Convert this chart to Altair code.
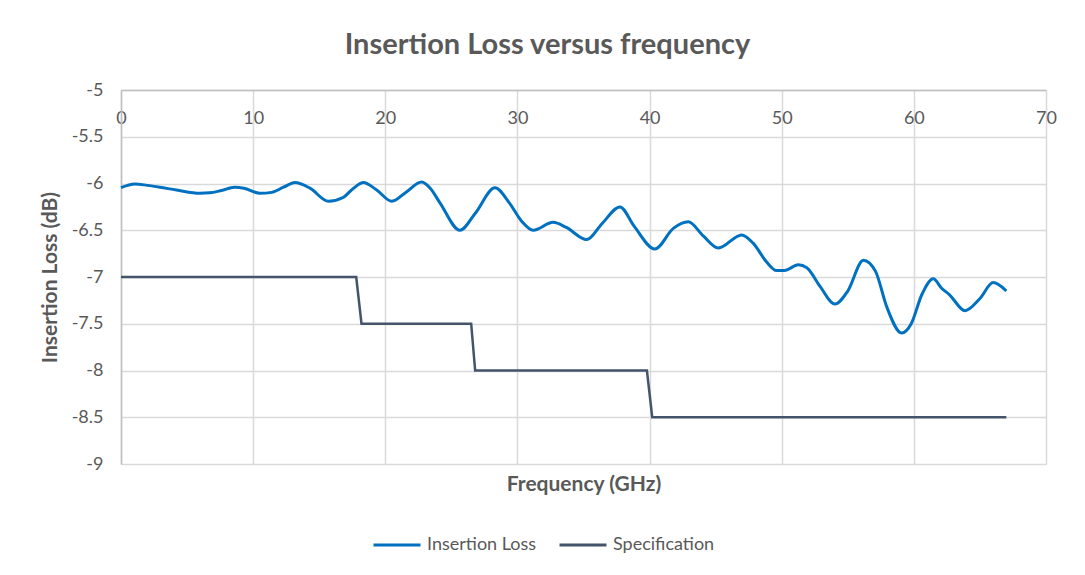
import altair as alt
import pandas as pd

# Insertion loss curve (GHz, dB)
il_freq = [0, 0.5, 1.06, 2.0, 2.95, 4.2, 5.98, 6.7, 7.6, 8.6, 9.3, 10.5, 11.4, 12.3,
           13.17, 14.3, 15.7, 16.8, 17.6, 18.34, 19.35, 20.5, 21.6, 22.75, 23.4,
           24.15, 25.65, 26.8, 28.3, 29.4, 30.3, 31.2, 32.7, 33.7, 35.24, 36.4,
           37.76, 38.8, 40.4, 41.8, 42.93, 44.06, 45.2, 46.97, 47.85, 48.86, 49.6,
           50.2, 51.26, 51.9, 52.9, 54.03, 55.0, 56.18, 57.1, 57.95, 59.08, 59.8,
           60.6, 61.47, 62.1, 62.7, 63.87, 65.0, 66.0, 67.0]
il_loss = [-6.045, -6.02, -6.005, -6.02, -6.04, -6.07, -6.105, -6.10, -6.075, -6.04,
           -6.05, -6.105, -6.095, -6.04, -5.99, -6.05, -6.19, -6.15, -6.05, -5.99,
           -6.07, -6.19, -6.09, -5.985, -6.05, -6.21, -6.5, -6.32, -6.045, -6.21,
           -6.40, -6.5, -6.415, -6.47, -6.6, -6.43, -6.25, -6.45, -6.70, -6.48,
           -6.41, -6.56, -6.69, -6.55, -6.64, -6.84, -6.93, -6.93, -6.87, -6.9,
           -7.1, -7.29, -7.15, -6.82, -6.94, -7.32, -7.60, -7.50, -7.19, -7.02,
           -7.12, -7.19, -7.36, -7.23, -7.06, -7.15]

# Specification mask
spec_freq = [0, 17.8, 18.2, 26.5, 26.8, 39.8, 40.2, 67]
spec_loss = [-7, -7, -7.5, -7.5, -8, -8, -8.5, -8.5]

series_names = ["Insertion Loss", "Specification"]
series_colors = ["#0070c0", "#44546a"]
x_ticks = [0, 10, 20, 30, 40, 50, 60, 70]
y_ticks = [-5, -5.5, -6, -6.5, -7, -7.5, -8, -8.5, -9]

il_df = pd.DataFrame({"freq": il_freq, "loss": il_loss, "series": series_names[0]})
spec_df = pd.DataFrame({"freq": spec_freq, "loss": spec_loss, "series": series_names[1]})

color = alt.Color(
    "series:N",
    scale=alt.Scale(domain=series_names, range=series_colors),
    legend=alt.Legend(
        title=None, orient="none", legendX=251, legendY=430, direction="horizontal",
        symbolType="stroke", symbolSize=2209, symbolStrokeWidth=3,
        labelFontSize=18, labelColor="#595959", labelOffset=5,
        columnPadding=16, padding=0,
    ),
)

y_enc = alt.Y(
    "loss:Q",
    scale=alt.Scale(domain=[-9, -5], nice=False, zero=False),
    axis=alt.Axis(
        values=y_ticks, title="Insertion Loss (dB)", labelExpr="toString(datum.value)",
        labelFontSize=18, labelColor="#595959", labelPadding=18, labelFlush=False,
        titleFontSize=21, titleFontWeight="bold", titleColor="#595959", titlePadding=11,
        ticks=False, domain=True, domainColor="#bfbfbf", domainWidth=1.5,
        grid=True, gridColor="#d9d9d9", gridWidth=1.5,
    ),
)

x_scale = alt.Scale(domain=[0, 70], nice=False)

il_line = alt.Chart(il_df).mark_line(strokeWidth=3, interpolate="monotone").encode(
    x=alt.X("freq:Q", scale=x_scale, axis=alt.Axis(
        orient="top", values=x_ticks, title=None,
        labelFontSize=18, labelColor="#595959", labelBaseline="top", labelPadding=-19,
        labelFlush=False,
        ticks=False, tickSize=0, domain=True, domainColor="#bfbfbf", domainWidth=1.5,
        grid=True, gridColor="#d9d9d9", gridWidth=1.5,
    )),
    y=y_enc,
    color=color,
)

spec_line = alt.Chart(spec_df).mark_line(strokeWidth=2.5).encode(
    x=alt.X("freq:Q", scale=x_scale, axis=alt.Axis(
        orient="bottom", values=x_ticks, title="Frequency (GHz)",
        labels=False, ticks=False, domain=False, grid=False,
        titleFontSize=21, titleFontWeight="bold", titleColor="#595959", titlePadding=9,
    )),
    y=y_enc,
    color=color,
)

chart = alt.layer(il_line, spec_line).resolve_axis(x="independent").properties(
    width=925, height=374,
    autosize=alt.AutoSizeParams(type="none"),
    padding={"left": 113, "top": 82, "right": 31, "bottom": 103},
    title=alt.TitleParams(
        "Insertion Loss versus frequency", fontSize=29, fontWeight="bold",
        color="#595959", anchor="middle", dx=-36, offset=21,
    ),
).configure(font="Lato").configure_view(stroke=None)

chart.save("out.html", embed_options={"renderer": "svg", "actions": False})
